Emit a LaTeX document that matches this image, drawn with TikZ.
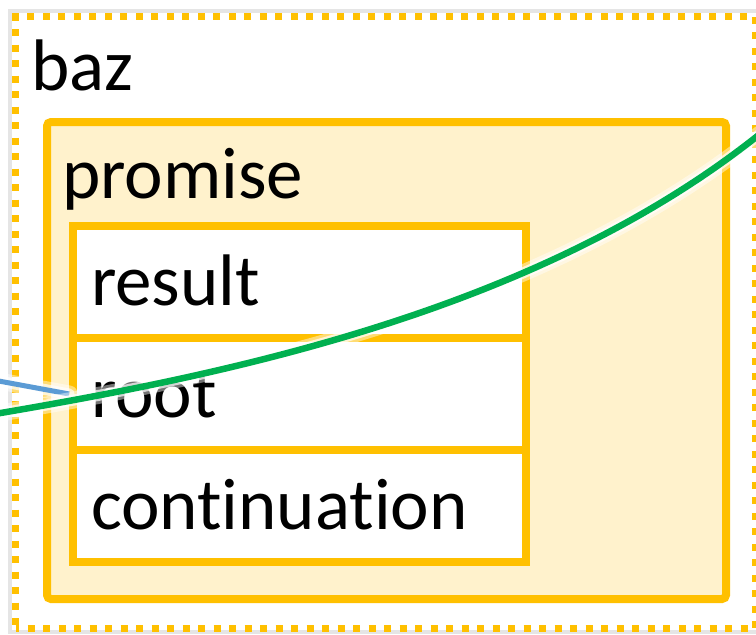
\documentclass[tikz,border=0pt]{standalone}
\usepackage{fontspec}
\setmainfont[Ligatures={NoCommon,NoRare,NoDiscretionary}]{Carlito}
\definecolor{gold}{HTML}{FFC000}
\definecolor{cream}{HTML}{FFF2CC}
\definecolor{grn}{HTML}{00B050}
\definecolor{blu}{HTML}{5B9BD5}
\tikzset{
  bigfont/.style={font=\fontsize{73}{80}\selectfont},
  lbl/.style={bigfont, inner sep=0pt, anchor=base west},
  outerbox/.style={draw=gold, line width=7pt, dash pattern=on 7pt off 8.5pt, dash phase=3.5pt,
    inner sep=0pt, minimum width=740pt, minimum height=612pt, anchor=north west},
  shadowbox/.style={draw=black!10, line width=4pt, inner sep=0pt, anchor=north west},
  promisebox/.style={draw=gold, fill=cream, line width=8pt, rounded corners=4pt,
    inner sep=0pt, minimum width=679pt, minimum height=477pt, anchor=north west},
  field/.style={draw=gold, fill=white, line width=7.5pt, bigfont,
    minimum width=453pt, minimum height=112pt, text width=417pt, align=left,
    inner xsep=18pt, inner ysep=0pt, text height=46pt, text depth=0pt},
  glowwide/.style={draw=white, line width=17pt, opacity=0.45, line cap=round},
  glownarrow/.style={draw=white, line width=11pt, opacity=0.7, line cap=round},
  greenline/.style={draw=grn, line width=6.5pt},
  blueline/.style={draw=blu, line width=5pt},
}
\begin{document}
\begin{tikzpicture}[x=1pt,y=-1pt]
\useasboundingbox (0,0) rectangle (756,635);
\fill[white] (0,0) rectangle (756,635);
% outer frame with soft shadow
\node[shadowbox, minimum width=748pt, minimum height=621pt] (bazshadow) at (8,9) {};
\node[fill=white, inner sep=0pt, minimum width=740pt, minimum height=612pt, anchor=north west] (bazfill) at (12,13) {};
\node[outerbox] (baz) at (12,13) {};
\node[lbl] (baztext) at (31,90) {baz};
% promise box
\node[promisebox] (promise) at (43,118) {};
\node[lbl] (promisetext) at (62,198) {promise};
% fields
\node[field] (result) at (299.5,282) {result};
\node[field] (root) at (299.5,394) {root};
\node[field] (continuation) at (299.5,506) {continuation};
% connectors
\coordinate (bA) at (-4,380.5);
\coordinate (gA) at (-4,413.8);
\coordinate (gB) at (760,134);
\draw[glowwide] (bA) -- (root.west);
\draw[glownarrow] (bA) -- (root.west);
\draw[blueline] (bA) -- (root.west);
\draw[glowwide] (gA) .. controls (220,375.6) and (536,313) .. (gB);
\draw[glownarrow] (gA) .. controls (220,375.6) and (536,313) .. (gB);
\draw[greenline] (gA) .. controls (220,375.6) and (536,313) .. (gB);
\end{tikzpicture}
\end{document}
